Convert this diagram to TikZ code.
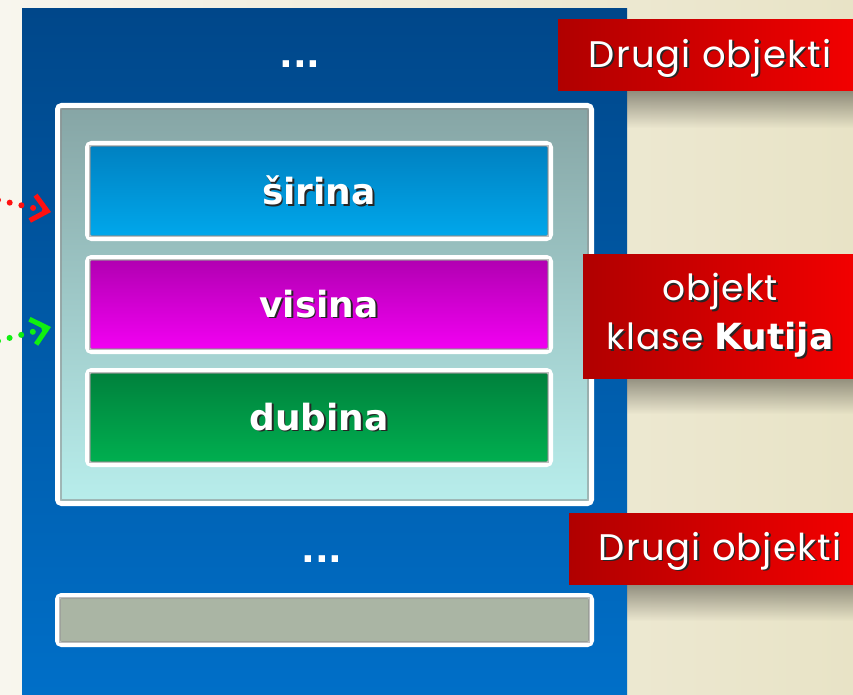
\documentclass[tikz,border=0pt]{standalone}
\usepackage{fontspec}
\setmainfont{DejaVu Sans}
\newfontfamily\gothic[LetterSpace=3]{Poppins}
\usetikzlibrary{arrows.meta,fadings}

\definecolor{bgL}{HTML}{F8F6EE}
\definecolor{bgR}{HTML}{E8E3C6}
\definecolor{colTop}{HTML}{00478A}
\definecolor{colBot}{HTML}{006FC8}
\definecolor{frameTop}{HTML}{86A5A5}
\definecolor{frameBot}{HTML}{B8EEEC}
\definecolor{wTop}{HTML}{0080C0}
\definecolor{wBot}{HTML}{00A8EC}
\definecolor{hTop}{HTML}{B000B0}
\definecolor{hBot}{HTML}{F400F4}
\definecolor{dTop}{HTML}{00803C}
\definecolor{dBot}{HTML}{00B050}
\definecolor{barCol}{HTML}{AAB5A4}
\definecolor{labL}{HTML}{B00000}
\definecolor{labR}{HTML}{F20000}
\definecolor{arrRed}{HTML}{FF1010}
\definecolor{arrGreen}{HTML}{10F010}

% white text with a dark drop shadow
\newcommand\shtxt[1]{\makebox[0pt][l]{\hspace{1.8pt}\raisebox{-1.8pt}{\color{black!85}#1}}#1}

\begin{document}
\begin{tikzpicture}[x=1pt,y=-1pt,
  slot/.style={draw=white, line width=5pt, rounded corners=4pt,
    inner sep=0pt, text=white, font=\fontsize{36}{40}\selectfont\bfseries},
  bevel/.style={draw=black!45, line width=1.2pt, opacity=0.55},
  redlab/.style={left color=labL, right color=labR, inner sep=0pt},
  labtext/.style={text=white, align=center, inner sep=0pt,
    font=\gothic\fontsize{37}{49}\selectfont},
  labshadow/.style={fill=black!70!bgR, opacity=0.55, path fading=south},
  dots/.style={text=white, font=\fontsize{36}{36}\selectfont\bfseries},
  ptr/.style={line width=6pt, line cap=round, dash pattern=on 0pt off 12pt,
    -{Straight Barb[length=15pt,width=26pt,line width=5pt]}}
]
\useasboundingbox (0,0) rectangle (853,695);

% page background and memory column
\shade[left color=bgL, right color=bgR] (0,0) rectangle (853,695);
\shade[top color=colTop, bottom color=colBot] (22,9) rectangle (627,695);

% object frame
\node[slot, top color=frameTop, bottom color=frameBot,
      minimum width=534pt, minimum height=398pt] (obj) at (324.5,304.5) {};
\draw[bevel] ([shift={(6,6)}]obj.north west) rectangle ([shift={(-6,-6)}]obj.south east);

% fields
\node[slot, top color=wTop, bottom color=wBot,
      minimum width=463pt, minimum height=95pt] (sirina) at (319,191) {\shtxt{širina}};
\draw[bevel] ([shift={(5,5)}]sirina.north west) rectangle ([shift={(-5,-5)}]sirina.south east);
\node[slot, top color=hTop, bottom color=hBot,
      minimum width=463pt, minimum height=94pt] (visina) at (319,304.5) {\shtxt{visina}};
\draw[bevel] ([shift={(5,5)}]visina.north west) rectangle ([shift={(-5,-5)}]visina.south east);
\node[slot, top color=dTop, bottom color=dBot,
      minimum width=463pt, minimum height=94pt] (dubina) at (319,417.5) {\shtxt{dubina}};
\draw[bevel] ([shift={(5,5)}]dubina.north west) rectangle ([shift={(-5,-5)}]dubina.south east);

% next object slot
\node[slot, fill=barCol, minimum width=534pt, minimum height=49pt] (bar) at (324.5,620) {};
\draw[bevel] ([shift={(5,5)}]bar.north west) rectangle ([shift={(-5,-5)}]bar.south east);

% ellipses
\node[dots] (dotsTop) at (300,64) {...};
\node[dots] (dotsBot) at (322,559) {...};

% soft shadows under the labels
\fill[labshadow] (627,91) rectangle (853,128);
\fill[labshadow] (627,377) rectangle (853,414);
\fill[labshadow] (627,584) rectangle (853,621);

% labels
\node[redlab, minimum width=295pt, minimum height=71pt] (lab1) at (705.5,55.5) {};
\node[labtext] (lab1t) at (710,59) {\shtxt{Drugi objekti}};
\node[redlab, minimum width=272pt, minimum height=124pt] (lab2) at (719,316) {};
\node[labtext, font=\gothic\fontsize{36}{49}\selectfont] (lab2t) at (720,316)
      {\shtxt{objekt}\\\shtxt{klase {\rmfamily\bfseries Kutija}}};
\node[redlab, minimum width=284pt, minimum height=71pt] (lab3) at (711,548.5) {};
\node[labtext] (lab3t) at (720,552) {\shtxt{Drugi objekti}};

% references pointing into the object
\coordinate (refW) at (-2,200);
\coordinate (refH) at (-2,341);
\draw[ptr, arrRed] (refW) -- ([xshift=-4pt]obj.west |- 0,212);
\draw[ptr, arrGreen] (refH) -- ([xshift=-4pt]obj.west |- 0,327);
\end{tikzpicture}
\end{document}
